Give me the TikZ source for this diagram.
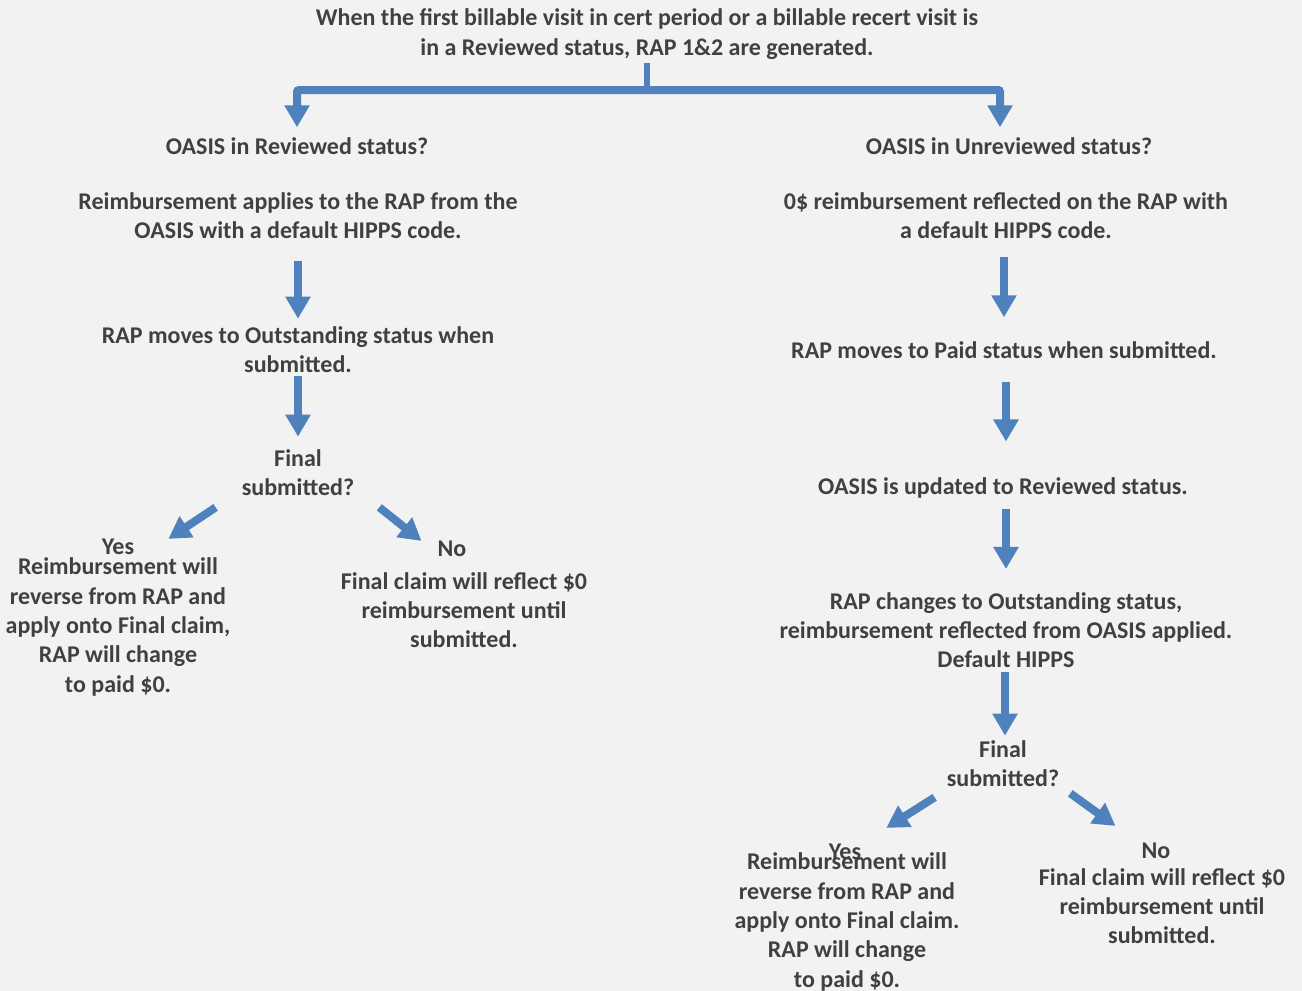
\documentclass[tikz,border=0pt]{standalone}
\usepackage{fontspec}
\setmainfont{Carlito}
\usetikzlibrary{positioning}
\usetikzlibrary{arrows.meta}

\definecolor{flowblue}{HTML}{4F81BD}
\definecolor{txtgray}{HTML}{404040}
\definecolor{bggray}{HTML}{F2F2F2}

\begin{document}
\begin{tikzpicture}[x=1pt,y=-1pt,
		txt/.style={txtgray,inner sep=0pt,align=center,font=\fontsize{24}{29.3}\selectfont\bfseries},
		flow/.style={flowblue,line width=8pt,-{Triangle[width=24pt,length=22pt]}},
		bar/.style={flowblue,line width=7pt}]
		\fill[bggray] (0,0) rectangle (1302,991);
		\useasboundingbox (0,0) rectangle (1302,991);

		\node[txt] (top) at (647,34) {When the first billable visit in cert period or a billable recert visit is\\in a Reviewed status, RAP 1\&2 are generated.};

		% reviewed branch
		\node[txt] (oasisR) at (297,146) {OASIS in Reviewed status?};
		\node[txt] (reimbR) at (298,216) {Reimbursement applies to the RAP from the\\OASIS with a default HIPPS code.};
		\node[txt] (outR) at (298,350) {RAP moves to Outstanding status when\\submitted.};
		\node[txt] (finalR) at (298,473) {Final\\submitted?};
		\node[txt] (yesR) at (118,547) {Yes};
		\node[txt] (yesbodyR) at (118,627) {Reimbursement will\\reverse from RAP and\\apply onto Final claim,\\RAP will change\\to paid \$0.};
		\node[txt] (noR) at (452,549) {No};
		\node[txt] (nobodyR) at (464,610) {Final claim will reflect \$0\\reimbursement until\\submitted.};

		% unreviewed branch
		\node[txt] (oasisU) at (1009,146) {OASIS in Unreviewed status?};
		\node[txt] (reimbU) at (1006,216) {0\$ reimbursement reflected on the RAP with\\a default HIPPS code.};
		\node[txt] (paidU) at (1004,350) {RAP moves to Paid status when submitted.};
		\node[txt] (updU) at (1003,488) {OASIS is updated to Reviewed status.};
		\node[txt] (outU) at (1006,630) {RAP changes to Outstanding status,\\reimbursement reflected from OASIS applied.\\Default HIPPS};
		\node[txt] (finalU) at (1003,764) {Final\\submitted?};
		\node[txt] (yesU) at (845,852) {Yes};
		\node[txt] (yesbodyU) at (847,922) {Reimbursement will\\reverse from RAP and\\apply onto Final claim.\\RAP will change\\to paid \$0.};
		\node[txt] (noU) at (1156,851) {No};
		\node[txt] (nobodyU) at (1162,906) {Final claim will reflect \$0\\reimbursement until\\submitted.};

		% split
		\coordinate (split) at (647,90);
		\draw[bar,line width=6pt] ([yshift=-4pt]top.south) -- (split);
		\draw[flow,rounded corners=2pt,shorten >=10pt] (split) -| (oasisR.north);
		\draw[flow,rounded corners=2pt,shorten >=10pt] (split) -| ([xshift=-9pt]oasisU.north);

		\draw[flow,shorten <=22pt,shorten >=8pt] (reimbR.south) -- (reimbR.south |- outR.north);
		\draw[flow,shorten <=3pt,shorten >=13pt] (outR.south) -- (outR.south |- finalR.north);
		\draw[flow] ([shift={(-26,11)}]finalR.south west) -- ([shift={(34,0)}]yesR.north east);
		\draw[flow] ([shift={(25,11)}]finalR.south east) -- ([shift={(-16,0)}]noR.north west);

		\draw[flow,shorten <=18pt,shorten >=24pt] ([xshift=-2pt]reimbU.south) -- ([xshift=-2pt]reimbU.south |- paidU.north);
		\draw[flow,shorten <=23pt,shorten >=36pt] ([xshift=2pt]paidU.south) -- ([xshift=2pt]paidU.south |- updU.north);
		\draw[flow,shorten <=10pt,shorten >=23pt] ([xshift=3pt]updU.south) -- ([xshift=3pt]updU.south |- outU.north);
		\draw[flow,shorten <=4pt,shorten >=5pt] ([xshift=-1pt]outU.south) -- ([xshift=-1pt]outU.south |- finalU.north);
		\draw[flow] ([shift={(-12,10)}]finalU.south west) -- ([shift={(25,-16)}]yesU.north east);
		\draw[flow] ([shift={(11,6)}]finalU.south east) -- ([shift={(-26,-17)}]noU.north west);
	\end{tikzpicture}
\end{document}
